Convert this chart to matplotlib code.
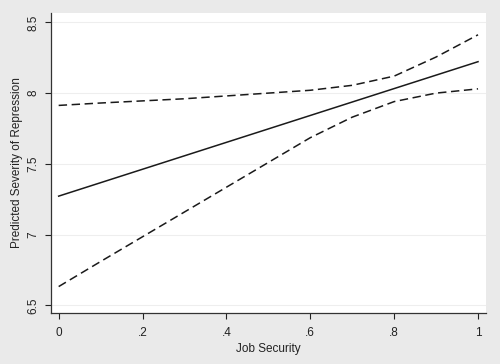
import matplotlib
matplotlib.use("Agg")
import matplotlib.pyplot as plt

# predicted values and 95% bounds
job_security = [0.0, 0.1, 0.2, 0.3, 0.4, 0.5, 0.6, 0.7, 0.8, 0.9, 1.0]
predicted = [7.272, 7.367, 7.462, 7.557, 7.652, 7.747, 7.842, 7.937, 8.032, 8.127, 8.222]
upper = [7.913, 7.93, 7.945, 7.96, 7.98, 8.0, 8.02, 8.055, 8.12, 8.255, 8.412]
lower = [6.633, 6.81, 6.985, 7.16, 7.335, 7.51, 7.685, 7.83, 7.94, 8.0, 8.03]

x_ticks = [0, 0.2, 0.4, 0.6, 0.8, 1.0]
x_labels = ["0", ".2", ".4", ".6", ".8", "1"]
y_ticks = [6.5, 7, 7.5, 8, 8.5]
y_labels = ["6.5", "7", "7.5", "8", "8.5"]

plt.rcParams["font.family"] = ["Liberation Sans", "DejaVu Sans"]

fig = plt.figure(figsize=(5, 3.64), dpi=100, facecolor="#eaeaea")
ax = fig.add_axes([0.1014, 0.140, 0.8706, 0.8243])
ax.set_facecolor("white")

for y in y_ticks:
    ax.axhline(y, color="#eeeeee", lw=0.8, zorder=0)

ax.plot(job_security, predicted, color="#1a1a1a", lw=1.1)
ax.plot(job_security, upper, color="#1a1a1a", lw=1.1, dashes=(5.5, 3))
ax.plot(job_security, lower, color="#1a1a1a", lw=1.1, dashes=(5.5, 3))

ax.set_xlim(-0.019, 1.019)
ax.set_ylim(6.446, 8.566)

ax.set_xticks(x_ticks)
ax.set_xticklabels(x_labels)
ax.set_yticks(y_ticks)
ax.set_yticklabels(y_labels, rotation=90, va="center")

ax.tick_params(axis="both", direction="out", length=4, width=0.8,
               labelsize=8.5, colors="#222222", pad=6)
ax.tick_params(axis="y", pad=4)
for side in ("top", "right"):
    ax.spines[side].set_visible(False)
for side in ("left", "bottom"):
    ax.spines[side].set_color("#333333")
    ax.spines[side].set_linewidth(0.9)

ax.set_xlabel("Job Security", fontsize=8.5, color="#222222", labelpad=3)
ax.set_ylabel("Predicted Severity of Repression", fontsize=8.5,
              color="#222222", labelpad=3.5)

fig.savefig("out.png", dpi=100, facecolor=fig.get_facecolor())
